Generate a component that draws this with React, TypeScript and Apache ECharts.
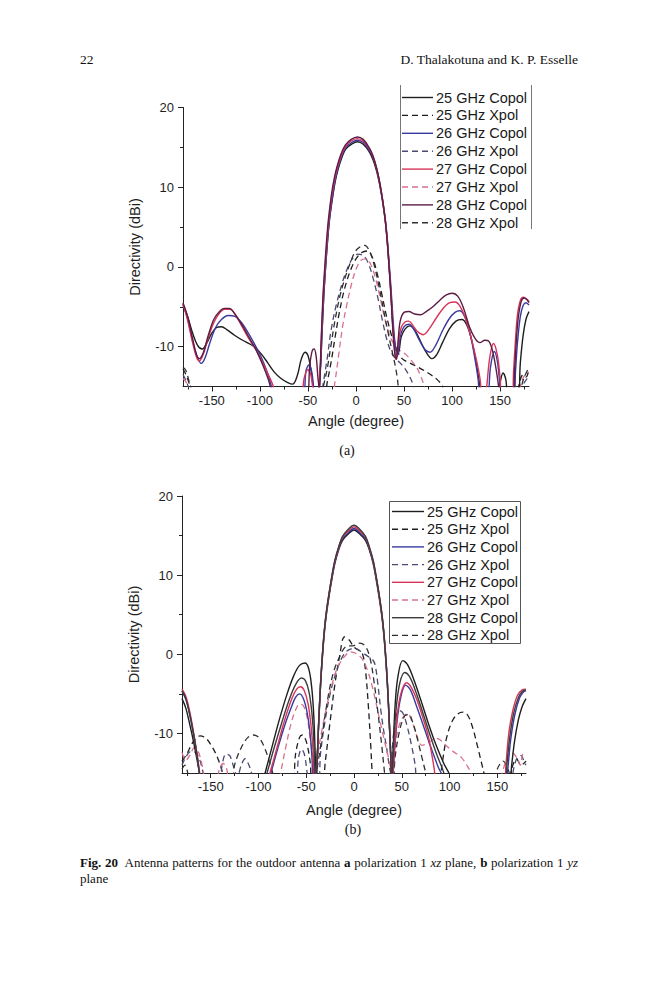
import React, { useEffect, useRef } from "react";
import * as echarts from "echarts";

const FONT = "'Liberation Sans', Arial, Helvetica, sans-serif";
const SERIF = "'Liberation Serif', 'Times New Roman', Times, serif";

// ---------- tick values ----------
const xMajorTicks = [-150, -100, -50, 0, 50, 100, 150];
const xMinorTicks = [-175, -125, -75, -25, 25, 75, 125, 175];
const yMajorTicks = [-10, 0, 10, 20];
const yMinorTicks = [-5, 5, 15];

const legendNames = [
  "25 GHz Copol",
  "25 GHz Xpol",
  "26 GHz Copol",
  "26 GHz Xpol",
  "27 GHz Copol",
  "27 GHz Xpol",
  "28 GHz Copol",
  "28 GHz Xpol",
];

// ---------- (a) polarization 1, xz plane ----------
const a25Co = [[-180,-4.8],[-175,-6.3],[-170,-8.3],[-165,-9.8],[-160,-10.3],[-155,-9.5],[-150,-8.3],[-145,-7.6],[-140,-7.5],[-134,-7.9],[-126,-8.6],[-118,-9.2],[-110,-9.7],[-104,-10.2],[-98,-11],[-92,-12],[-85,-13.2],[-78,-14],[-71,-14.5],[-66,-14.7],[-61,-13.6],[-57,-11.6],[-53,-10.7],[-50,-11.1],[-47,-12.8],[-44,-15.5],[-41,-17],
  [-37,-12.5],[-35.5,-8.5],[-33.5,-3.5],[-31.5,0.2],[-29.5,3.4],[-27.5,6],[-24.5,8.6],[-21.5,10.8],[-18.5,12.3],[-14.5,13.8],[-10.5,14.8],[-4.5,15.4],[1.5,15.7],[7.5,15.4],[13.5,14.5],[17.5,13.5],[21.5,12],[24.5,10.4],[27.5,8.3],[30.5,5.7],[32.5,3.2],[34.5,0],[36.5,-3.5],[38.5,-7.5],[41,-10],[44,-10.8],
  [47,-8.8],[51,-7.8],[56,-7.4],[61,-7.9],[67,-9.3],[73,-10.7],[79,-11.5],[84,-11],[90,-9.5],[97,-7.8],[104,-6.8],[110,-6.6],[115,-7.2],[120,-9],[125,-12],[129,-15],[132,-17],[147,-17],[150,-14.5],[153,-13.3],[156,-14.2],[159,-17],[168,-17],[171,-12],[174,-8.5],[177,-6.5],[180,-5.6]];
const a25X = [[-180,-12.8],[-177,-13.5],[-173,-14.8],[-170,-16],[-166,-17],[-34,-17],[-30,-14.5],[-26,-12],[-22,-9],[-17,-5.5],[-12,-2.8],[-6,-0.5],[0,1],[6,1.8],[12,2],[17,1.2],[22,-0.8],[27,-3.5],[32,-6.3],[37,-8.6],[42,-10.3],[48,-11.5],[55,-12],[65,-12.6],[75,-13.3],[85,-14.2],[90,-15],[94,-17],[166,-17],[170,-14.5],[174,-13.5],[177,-13.8],[180,-12.8]];
const a26Co = [[-180,-4.7],[-175,-6.6],[-170,-9.3],[-165,-11.3],[-161,-12.1],[-157,-11.4],[-152,-9.5],[-146,-7.6],[-140,-6.6],[-133,-6.1],[-126,-6.2],[-119,-7],[-112,-8.3],[-105,-9.8],[-99,-11.2],[-93,-13],[-88,-15],[-84,-17],[-56,-17],[-52,-13],[-49,-12.3],[-46,-13.2],[-43,-16],[-40,-17],
  [-37,-12.8],[-35.5,-8.8],[-33.5,-3.6],[-31.5,0.2],[-29.5,3.5],[-27.5,6.1],[-24.5,8.8],[-21.5,11],[-18.5,12.5],[-14.5,14],[-10.5,15],[-4.5,15.6],[1.5,15.9],[7.5,15.6],[13.5,14.7],[17.5,13.8],[21.5,12.3],[24.5,10.7],[27.5,8.6],[30.5,6],[32.5,3.6],[34.5,0.5],[36.5,-2.8],[38.5,-6.5],[40.5,-9.5],[43,-11.2],
  [46,-8.8],[50,-7.5],[55,-7.2],[60,-7.8],[66,-9.2],[72,-10.4],[77,-10.7],[83,-9.8],[90,-8],[97,-6.5],[103,-5.7],[108,-5.5],[113,-6.2],[118,-8],[123,-11],[127,-14],[130,-17],[136,-17],[140,-12.5],[144,-10.6],[147,-11.8],[150,-15],[152,-17],[164,-17],[166,-13],[168,-9.5],[171,-6.2],[174,-4.8],[177,-4.5],[180,-4.8]];
const a26X = [[-180,-13.5],[-176,-14.5],[-172,-16],[-168,-17],[-38,-17],[-34,-14.5],[-30,-11.5],[-26,-8],[-21,-5],[-15,-2.3],[-10,-0.5],[-4,1],[2,1.6],[8,1.4],[13,0.4],[18,-1.5],[23,-4],[28,-7],[33,-9.5],[38,-11],[44,-11.8],[50,-12.6],[56,-13.8],[60,-15],[63,-17],[170,-17],[174,-14.8],[178,-14],[180,-13.6]];
const a27Co = [[-180,-4.6],[-175,-6.8],[-170,-9.5],[-166,-11.3],[-163,-11.8],[-159,-11],[-154,-9],[-148,-7],[-142,-5.8],[-137,-5.3],[-131,-5.3],[-125,-6.1],[-118,-7.6],[-111,-9.1],[-104,-10.4],[-98,-11.8],[-92,-13.3],[-86,-15],[-82,-17],[-58,-17],[-54,-14],[-50,-12.9],[-47,-13.5],[-44,-16],[-41,-17],
  [-37.5,-13],[-36,-9],[-34,-3.5],[-32,0.2],[-30,3.5],[-28,6.2],[-25,9],[-22,11.1],[-19,12.6],[-15,14.1],[-11,15.1],[-5,15.8],[1.5,16.1],[7.5,15.8],[13.5,14.9],[17.5,13.9],[21.5,12.3],[24.5,10.6],[27.5,8.5],[30.5,5.8],[32.5,3.3],[34.5,0],[36.5,-3.6],[38.5,-7.8],[40.5,-10.8],[42,-11.6],
  [44,-9.6],[47,-7.6],[51,-6.9],[55,-6.8],[59,-7.3],[64,-8.1],[70,-8.5],[76,-7.8],[83,-6.5],[90,-5.3],[97,-4.5],[103,-4.4],[108,-4.9],[114,-6.5],[120,-9],[125,-11.5],[129,-14],[132,-17],[135,-16],[139,-11.5],[143,-9.6],[147,-11],[150,-14],[152,-17],[162,-17],[164,-13],[166,-9],[168,-6],[171,-4.2],[174,-3.8],[177,-4],[180,-4.5]];
const a27X = [[-180,-14],[-176,-14.6],[-172,-16],[-168,-17],[-26,-17],[-22,-14.5],[-18,-11],[-14,-7.5],[-10,-5],[-5,-2.3],[0,-0.3],[5,0.8],[10,1],[15,0.4],[20,-1.3],[25,-3.8],[30,-6.5],[35,-8.6],[40,-9.8],[46,-10.5],[52,-11],[58,-11.8],[63,-12.6],[67,-13.6],[71,-15],[74,-17],[168,-17],[172,-14.5],[176,-13.5],[180,-13.2]];
const a28Co = [[-180,-4.5],[-175,-6.3],[-170,-9],[-166,-11],[-163,-11.5],[-159,-10.8],[-154,-8.7],[-148,-6.6],[-142,-5.6],[-137,-5.2],[-132,-5.2],[-126,-5.9],[-119,-7.2],[-111,-8.9],[-104,-10.4],[-97,-12.3],[-91,-14.2],[-87,-16],[-84,-17],[-52,-17],[-48,-12.2],[-45.5,-10.5],[-43.5,-10.3],[-41.5,-11.2],[-39.5,-14],[-38,-15.5],
  [-36.5,-10],[-34.5,-4],[-32.5,0],[-30.5,3.5],[-28.5,6.2],[-25.5,9.1],[-22.5,11.2],[-19.5,12.7],[-15.5,14.2],[-11,15.3],[-5,16],[1.5,16.3],[7.5,16],[13.5,15],[17.5,14],[21.5,12.4],[24.5,10.7],[27.5,8.5],[30.5,5.8],[32.5,3.2],[34.5,-0.2],[36.5,-4],[38.5,-8.2],[40.5,-11],[42,-11.6],
  [44,-9],[46,-6.8],[50,-5.7],[55,-5.6],[61,-5.9],[67,-6],[73,-5.6],[80,-5],[87,-4.2],[94,-3.5],[100,-3.3],[106,-3.7],[112,-5.2],[118,-7.5],[124,-9],[129,-9.5],[134,-9.2],[138,-9.3],[142,-10.5],[146,-13],[149,-15.5],[151,-17],[163,-17],[165,-13],[167,-9],[169,-6.2],[172,-4.3],[175,-3.9],[178,-4.1],[180,-4.4]];
const a28X = [[-180,-12.6],[-177,-13],[-174,-14.2],[-171,-15.5],[-168,-17],[-38,-17],[-34,-15],[-30,-12.8],[-26,-9.8],[-22,-6.8],[-17,-3.8],[-12,-1.6],[-6,0.5],[-1,1.9],[4,2.5],[9,2.7],[14,2],[19,0.2],[24,-2.5],[29,-5.6],[34,-8.6],[38,-10.8],[41,-12.5],[43,-14],[45,-16],[47,-17],[170,-17],[173,-14.6],[177,-13.3],[180,-12.6]];

// ---------- (b) polarization 1, yz plane ----------
const b25Co = [[-180,-5.6],[-176,-6.8],[-172,-8.8],[-168,-11],[-164,-13.5],[-161,-15.5],[-159,-17],[-97,-17],[-93,-15],[-86,-11.8],[-78,-8.2],[-70,-5],[-63,-2.7],[-57,-1.4],[-51,-1.1],[-47,-2],[-44,-4.5],[-42,-8],[-40.5,-13],[-39.5,-17],
  [-38.5,-13.2],[-37,-9],[-35,-4],[-33,-0.3],[-31,2.7],[-29,4.9],[-26,7.4],[-23,9.6],[-20,11.5],[-16,13.2],[-12,14.4],[-6,15.2],[0,15.7],[6,15.2],[12,14.4],[16,13.2],[20,11.5],[23,9.6],[26,7.4],[29,4.9],[31,2.7],[33,-0.3],[35,-4],[37,-9],[38.5,-13.2],[39.5,-17],
  [41,-12],[43,-6.5],[46,-2.8],[51,-0.8],[56,-1.3],[62,-3],[70,-5.8],[78,-8.8],[86,-11.5],[94,-13.8],[100,-15.2],[104,-17],[162,-17],[165,-14],[168,-11],[172,-8.3],[176,-6.6],[180,-5.6]];
const b25X = [[-180,-13.5],[-175,-12.6],[-168,-11],[-161,-10.3],[-155,-10.6],[-149,-11.6],[-143,-13],[-138,-14.8],[-134,-17],[-66,-17],[-61,-12.5],[-57,-10.5],[-54,-10.2],[-50,-11],[-46,-13.5],[-43,-17],[-34,-17],[-30,-13.5],[-25,-8.5],[-20,-3.8],[-15,-0.2],[-10,2.2],[-5,1.8],[0,0.9],[5,0.5],[9,0],[12,-2],[15,-6.5],[17.5,-11.5],[19,-15],[20,-17],[88,-17],[92,-14],[97,-10.5],[103,-8.4],[109,-7.5],[114,-7.3],[119,-7.7],[124,-9.2],[129,-11.5],[133,-13.5],[137,-15.5],[140,-17],[160,-17],[165,-14.5],[170,-13.2],[175,-14],[180,-13.5]];
const b26Co = [[-180,-4.7],[-176,-5.7],[-172,-7.6],[-168,-10.1],[-164,-13],[-161,-15.8],[-159.5,-17],[-92,-17],[-87,-15],[-80,-12],[-72,-8.8],[-65,-6.5],[-61,-5.4],[-57,-5],[-53,-5.6],[-49,-7.4],[-46,-10],[-44,-13],[-42.5,-17],
  [-38.5,-12.8],[-37,-8.6],[-35,-3.7],[-33,0],[-31,3],[-29,5.2],[-26,7.7],[-23,9.8],[-20,11.7],[-16,13.4],[-12,14.6],[-6,15.4],[0,15.9],[6,15.4],[12,14.6],[16,13.4],[20,11.7],[23,9.8],[26,7.7],[29,5.2],[31,3],[33,0],[35,-3.7],[37,-8.6],[38.5,-12.8],[40,-17],
  [42,-13],[45,-8.5],[49,-5.4],[54,-3.9],[59,-4.5],[65,-6.4],[72,-8.8],[80,-11.6],[88,-14.2],[93,-15.5],[96,-17],[159,-17],[161,-14.5],[164,-10.8],[168,-7.8],[173,-5.6],[177,-4.8],[180,-4.6]];
const b26X = [[-180,-14],[-176,-13],[-171,-12.3],[-166,-12.4],[-161,-13.5],[-157,-15.5],[-154,-17],[-142,-17],[-138,-14],[-134,-12.6],[-130,-12.8],[-126,-14.2],[-122,-15.5],[-118,-14],[-114,-13.2],[-110,-14],[-106,-15.5],[-103,-17],[-62,-17],[-58,-13],[-55,-12],[-52,-12.6],[-49,-15],[-47,-17],[-38,-17],[-35,-12.5],[-30,-8.2],[-25,-5],[-19,-2.4],[-12,-0.3],[-5,0.6],[2,0.7],[9,0.2],[15,-0.3],[19,-0.6],[22,-1.3],[25,-3.8],[28,-7],[31,-9.6],[34,-11.7],[37,-14.2],[38.5,-15],[40,-12],[43,-8.6],[47,-7.1],[51,-7.4],[55,-8.8],[60,-11.4],[64,-14],[67,-17],[163,-17],[167,-14.5],[171,-13],[175,-12.8],[178,-13.6],[180,-14]];
const b27Co = [[-180,-4.4],[-176,-5.3],[-172,-7.2],[-168,-9.8],[-164,-12.8],[-161,-15.5],[-159.5,-17],[-93,-17],[-88,-15],[-81,-12],[-73,-8.5],[-65,-5.6],[-60,-4.4],[-56,-4.1],[-52,-4.6],[-48,-6.3],[-45,-9],[-43,-12],[-41.5,-17],
  [-38.5,-13],[-37,-8.8],[-35,-3.8],[-33,0],[-31,3],[-29,5.2],[-26,7.7],[-23,9.9],[-20,11.8],[-16,13.5],[-12,14.8],[-6,15.6],[0,16.1],[6,15.6],[12,14.8],[16,13.5],[20,11.8],[23,9.9],[26,7.7],[29,5.2],[31,3],[33,0],[35,-3.8],[37,-8.8],[38.5,-13],[40,-17],
  [42,-12.5],[45,-8],[49,-5],[55,-3.6],[60,-4.2],[66,-5.8],[72,-8],[78,-10.5],[84,-14.5],[87,-17],[157,-17],[159,-14],[162,-10],[166,-7.2],[171,-5.2],[176,-4.5],[180,-4.4]];
const b27X = [[-180,-12.4],[-176,-13.4],[-172,-12.8],[-167,-11.8],[-163,-12.3],[-159,-14],[-156,-16],[-153,-17],[-145,-17],[-141,-14.5],[-137,-13.8],[-133,-14.6],[-130,-17],[-80,-17],[-76,-14.5],[-71,-11.5],[-66,-8.8],[-61,-7],[-57,-6.3],[-53,-6.5],[-49,-8],[-46,-10.5],[-43,-13],[-40,-15],[-37,-12],[-33,-9.2],[-28,-6.3],[-23,-3.8],[-17,-1.6],[-10,-0.3],[-4,0.3],[2,0.1],[8,-0.5],[14,-2],[20,-4.5],[26,-7.8],[32,-11],[36,-13],[39,-14.5],[42,-12.5],[46,-9.5],[51,-8],[56,-7.5],[61,-8.6],[66,-10.4],[71,-11.5],[78,-11.2],[85,-10.6],[90,-10.8],[96,-11.5],[104,-12.3],[112,-13],[119,-14.2],[124,-15.5],[127,-17],[150,-17],[155,-15],[160,-13.2],[165,-12.4],[170,-13],[174,-14],[177,-12.6],[180,-12.6]];
const b28Co = [[-180,-4.6],[-176,-5.6],[-172,-7.5],[-168,-10],[-164,-13],[-161,-15.8],[-159.5,-17],[-96,-17],[-91,-15],[-84,-12],[-76,-8.8],[-68,-5.8],[-61,-3.8],[-55,-3],[-51,-3.3],[-47,-4.8],[-44,-7.5],[-42,-11],[-40.5,-17],
  [-38.5,-13],[-37,-8.7],[-35,-3.7],[-33,0.1],[-31,3.1],[-29,5.3],[-26,7.8],[-23,10],[-20,11.9],[-16,13.6],[-12,14.9],[-6,15.8],[0,16.3],[6,15.8],[12,14.9],[16,13.6],[20,11.9],[23,10],[26,7.8],[29,5.3],[31,3.1],[33,0.1],[35,-3.7],[37,-8.7],[38.5,-13],[39.5,-17],
  [41,-12.5],[44,-7],[48,-3.6],[53,-2.3],[58,-2.8],[64,-4.5],[71,-7],[79,-10],[87,-12.8],[94,-15],[97,-17],[158,-17],[160,-14],[163,-10.5],[167,-7.5],[172,-5.5],[176,-4.7],[180,-4.5]];
const b28X = [[-180,-14.5],[-177,-14],[-173,-15.5],[-170,-17],[-130,-17],[-125,-14],[-118,-11.8],[-111,-10.5],[-105,-10.2],[-99,-10.6],[-93,-12],[-88,-13.8],[-84,-15.5],[-81,-17],[-42,-17],[-38,-14],[-34,-10.8],[-28,-6],[-22,-2.5],[-15,-0.3],[-8,1],[0,1.1],[6,1.4],[12,1],[17,-0.6],[21,-3.5],[25,-7.3],[29,-11.5],[32,-15],[34,-17],[40,-17],[43,-13],[48,-9.5],[53,-7.8],[57,-7.6],[62,-8.8],[67,-11],[71,-13],[75,-15],[78,-17],[145,-17],[150,-14.5],[156,-13.5],[162,-14.8],[165,-17],[180,-17]];

// ---------- colours ----------
const colA = ["#1e1e1e", "#1e1e1e", "#3a3a9e", "#4a4a72", "#d8345a", "#d8708e", "#5b1d44", "#303030"];
const colB = ["#1e1e1e", "#1e1e1e", "#3a3a9e", "#4a4a72", "#d8345a", "#d8708e", "#3c3c3c", "#303030"];

const dataA = [a25Co, a25X, a26Co, a26X, a27Co, a27X, a28Co, a28X];
const dataB = [b25Co, b25X, b26Co, b26X, b27Co, b27X, b28Co, b28X];

const DASH = [6, 4];

function makeAxesX(gridIndex: number, nameGap: number) {
  return [
    {
      type: "value", gridIndex, min: -180, max: 180, position: "bottom",
      axisLine: { show: true, onZero: false, lineStyle: { color: "#222", width: 1 } },
      axisTick: { show: true, inside: false, length: 5, customValues: xMajorTicks, lineStyle: { color: "#222", width: 1 } },
      axisLabel: { show: true, customValues: xMajorTicks, color: "#1e1e1e", fontSize: 13, fontFamily: FONT, margin: 7 },
      splitLine: { show: false },
      name: "Angle (degree)", nameLocation: "middle", nameGap, nameMoveOverlap: false,
      nameTextStyle: { color: "#1e1e1e", fontSize: 14.5, fontFamily: FONT },
    },
    {
      type: "value", gridIndex, min: -180, max: 180, position: "bottom",
      axisLine: { show: false, onZero: false },
      axisTick: { show: true, inside: false, length: 3, customValues: xMinorTicks, lineStyle: { color: "#222", width: 1 } },
      axisLabel: { show: false },
      splitLine: { show: false },
    },
  ];
}

function makeAxesY(gridIndex: number) {
  return [
    {
      type: "value", gridIndex, min: -15, max: 20, position: "left",
      axisLine: { show: true, onZero: false, lineStyle: { color: "#222", width: 1 } },
      axisTick: { show: true, inside: false, length: 5, customValues: yMajorTicks, lineStyle: { color: "#222", width: 1 } },
      axisLabel: { show: true, customValues: yMajorTicks, color: "#1e1e1e", fontSize: 13, fontFamily: FONT, margin: 9 },
      splitLine: { show: false },
      name: "Directivity (dBi)", nameLocation: "middle", nameGap: 41, nameMoveOverlap: false,
      nameTextStyle: { color: "#1e1e1e", fontSize: 14.5, fontFamily: FONT },
    },
    {
      type: "value", gridIndex, min: -15, max: 20, position: "left",
      axisLine: { show: false, onZero: false },
      axisTick: { show: true, inside: false, length: 3, customValues: yMinorTicks, lineStyle: { color: "#222", width: 1 } },
      axisLabel: { show: false },
      splitLine: { show: false },
    },
  ];
}

function makeSeries(prefix: string, datas: number[][][], cols: string[], axisIndex: number) {
  return legendNames.map((n, i) => {
    const dashed = n.indexOf("Xpol") >= 0;
    return {
      type: "line",
      name: prefix + n,
      data: datas[i],
      xAxisIndex: axisIndex,
      yAxisIndex: axisIndex,
      smooth: 0.35,
      symbol: "none",
      showSymbol: false,
      clip: true,
      silent: true,
      lineStyle: { color: cols[i], width: dashed ? 1.3 : 1.4, type: dashed ? DASH : "solid" },
      itemStyle: { color: cols[i] },
      emphasis: { disabled: true },
      z: dashed ? 2 : 3,
    };
  });
}

// legend: texts by the legend component, icons (line samples) drawn as graphic lines
function makeLegend(prefix: string, left: number, top: number, itemWidth: number, itemGap: number) {
  return {
    orient: "vertical",
    left, top,
    padding: 0,
    itemWidth, itemHeight: 14, itemGap,
    icon: "rect",
    itemStyle: { opacity: 0 },
    selectedMode: false,
    data: legendNames.map((n) => prefix + n),
    formatter: (name: string) => name.slice(prefix.length),
    textStyle: { color: "#1a1a1a", fontSize: 14.5, fontFamily: FONT, padding: [0, 0, 0, -2] },
  };
}

function legendSamples(x1: number, x2: number, y0: number, step: number, cols: string[]) {
  return legendNames.map((n, i) => {
    const dashed = n.indexOf("Xpol") >= 0;
    return {
      type: "line",
      silent: true,
      z: 10,
      shape: { x1, y1: y0 + i * step, x2, y2: y0 + i * step },
      style: { stroke: cols[i], lineWidth: 1.4, lineDash: dashed ? DASH : null },
    };
  });
}

export default function App() {
  const ref = useRef<HTMLDivElement>(null);

  useEffect(() => {
    if (!ref.current) return;
    const chart = echarts.init(ref.current, null, { renderer: "svg", width: 659, height: 1000 });
    const option: any = {
      animation: false,
      backgroundColor: "#ffffff",
      grid: [
        { left: 183, top: 107.5, width: 346, height: 279, containLabel: false, outerBoundsMode: "none" },
        { left: 182, top: 496, width: 344, height: 277, containLabel: false, outerBoundsMode: "none" },
      ],
      xAxis: [...makeAxesX(0, 27), ...makeAxesX(1, 29)],
      yAxis: [...makeAxesY(0), ...makeAxesY(1)],
      legend: [
        makeLegend("(a) ", 402, 90, 31, 2.87),
        makeLegend("(b) ", 392, 504, 32, 2.7),
      ],
      series: [
        ...makeSeries("(a) ", dataA, colA, 0),
        ...makeSeries("(b) ", dataB, colB, 2),
      ],
      graphic: [
        { type: "line", silent: true, shape: { x1: 400.5, y1: 85, x2: 400.5, y2: 229 }, style: { stroke: "#777", lineWidth: 1 } },
        { type: "line", silent: true, shape: { x1: 531.5, y1: 85, x2: 531.5, y2: 229 }, style: { stroke: "#777", lineWidth: 1 } },
        { type: "rect", silent: true, shape: { x: 389.5, y: 501.5, width: 131, height: 142 }, style: { fill: "rgba(0,0,0,0)", stroke: "#555", lineWidth: 1 } },
        ...legendSamples(402, 433, 97.5, 17.9, colA),
        ...legendSamples(392, 424, 511.5, 17.7, colB),
        { type: "text", silent: true, x: 347, y: 450, style: { text: "(a)", fill: "#111", font: `14px ${SERIF}`, textAlign: "center", textVerticalAlign: "middle" } },
        { type: "text", silent: true, x: 353, y: 829, style: { text: "(b)", fill: "#111", font: `14px ${SERIF}`, textAlign: "center", textVerticalAlign: "middle" } },
      ],
    };
    chart.setOption(option);
    return () => chart.dispose();
  }, []);

  const serif: React.CSSProperties = { fontFamily: SERIF, color: "#111", position: "absolute", lineHeight: "16px", whiteSpace: "nowrap" };

  return (
    <div style={{ position: "absolute", left: 0, top: 0, width: 659, height: 1000, background: "#fff", overflow: "hidden" }}>
      <div ref={ref} style={{ position: "absolute", left: 0, top: 0, width: 659, height: 1000 }} />
      <div style={{ ...serif, left: 80, top: 52, fontSize: 13.5 }}>22</div>
      <div style={{ ...serif, right: 81, top: 52, fontSize: 13.5, textAlign: "right" }}>D. Thalakotuna and K. P. Esselle</div>
      <div style={{ ...serif, left: 80, top: 855, width: 498, fontSize: 13, textAlign: "justify", textAlignLast: "justify" as any, whiteSpace: "normal" }}>
        <b>Fig. 20</b>{"\u2002"}Antenna patterns for the outdoor antenna <b>a</b> polarization 1 <i>xz</i> plane, <b>b</b> polarization 1 <i>yz</i>
      </div>
      <div style={{ ...serif, left: 80, top: 871, fontSize: 13 }}>plane</div>
    </div>
  );
}
